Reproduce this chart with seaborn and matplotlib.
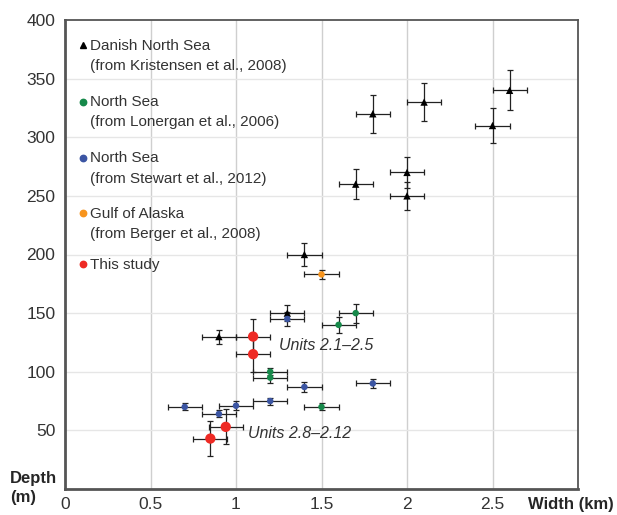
import pandas as pd
import matplotlib
matplotlib.use("Agg")
import matplotlib.pyplot as plt
from matplotlib.lines import Line2D
import seaborn as sns

# data (width in km, depth in m, +/- errors)
danish_x = [0.9, 1.3, 1.4, 1.7, 1.8, 2.0, 2.0, 2.1, 2.5, 2.6]
danish_y = [130, 150, 200, 260, 320, 270, 250, 330, 310, 340]
danish_yerr = [6, 7, 10, 13, 16, 13, 12, 16, 15, 17]

lonergan_x = [1.2, 1.2, 1.5, 1.6, 1.7]
lonergan_y = [100, 95, 70, 140, 150]
lonergan_yerr = [3, 5, 3, 7, 8]

stewart_x = [0.7, 0.9, 1.0, 1.2, 1.3, 1.4, 1.8]
stewart_y = [70, 64, 71, 75, 145, 87, 90]
stewart_yerr = [3, 3, 4, 3, 6, 4, 4]

berger_x = [1.5]
berger_y = [183]
berger_yerr = [4]

study_x = [0.85, 0.94, 1.1, 1.1]
study_y = [43, 53, 115, 130]
study_yerr = [15, 15, 15, 15]

width_err = 0.1

series = [
    ("Danish North Sea\n(from Kristensen et al., 2008)", danish_x, danish_y, danish_yerr, "black", "^", 28),
    ("North Sea\n(from Lonergan et al., 2006)", lonergan_x, lonergan_y, lonergan_yerr, "#16894a", "o", 22),
    ("North Sea\n(from Stewart et al., 2012)", stewart_x, stewart_y, stewart_yerr, "#3b55a3", "o", 22),
    ("Gulf of Alaska\n(from Berger et al., 2008)", berger_x, berger_y, berger_yerr, "#f7941d", "o", 22),
    ("This study", study_x, study_y, study_yerr, "#ee2a24", "o", 55),
]

frames = []
for name, xs, ys, es, c, m, s in series:
    frames.append(pd.DataFrame({"source": name, "width": xs, "depth": ys, "err": es}))
df = pd.concat(frames, ignore_index=True)

sns.set_style("white")
plt.rcParams["font.family"] = ["Liberation Sans", "DejaVu Sans"]

W, H = 617, 515
fig = plt.figure(figsize=(W / 100, H / 100), dpi=100)
ax = fig.add_axes([65 / W, 26 / H, 513 / W, 469 / H])

for name, xs, ys, es, c, m, s in series:
    sub = df[df["source"] == name]
    ax.errorbar(sub["width"], sub["depth"], xerr=width_err, yerr=sub["err"],
                fmt="none", ecolor="#222222", elinewidth=0.9, capsize=2.2,
                capthick=0.9, zorder=2)
    sns.scatterplot(data=sub, x="width", y="depth", color=c, marker=m, s=s,
                    edgecolor="none", ax=ax, zorder=3, legend=False)

ax.text(1.25, 122, "Units 2.1\u20132.5", fontsize=11.5, style="italic",
        color="#333333", va="center", ha="left")
ax.text(1.07, 47, "Units 2.8\u20132.12", fontsize=11.5, style="italic",
        color="#333333", va="center", ha="left")

ax.set_xlim(0, 3)
ax.set_ylim(0, 400)
ax.set_xticks([0, 0.5, 1, 1.5, 2, 2.5, 3])
ax.set_xticklabels(["0", "0.5", "1", "1.5", "2", "2.5", ""])
ax.set_yticks(range(0, 401, 50))
ax.set_yticklabels([""] + [str(v) for v in range(50, 401, 50)])
ax.tick_params(axis="both", labelsize=12.5, colors="#333333", length=3,
               width=0.8, direction="out", pad=4)
ax.tick_params(axis="x", pad=3)
ax.set_xlabel("")
ax.set_ylabel("")

for v in [0.5, 1, 1.5, 2, 2.5]:
    ax.axvline(v, color="#cfcfcf", lw=1.0, zorder=0)
for v in range(50, 400, 50):
    ax.axhline(v, color="#e6e6e6", lw=1.0, zorder=0)

for side in ["left", "bottom"]:
    ax.spines[side].set_color("#555555")
    ax.spines[side].set_linewidth(2.0)
for side in ["top", "right"]:
    ax.spines[side].set_color("#555555")
    ax.spines[side].set_linewidth(1.3)

# hand-placed key, marker beside the first line of each entry
key_rows = [45, 101.7, 158, 213.3, 264.3]
for (name, xs, ys, es, c, m, s), row in zip(series, key_rows):
    fig.text(90.5 / W, 1 - (row - 6.5) / H, name, fontsize=11,
             color="#333333", ha="left", va="top", linespacing=1.55)
    fig.add_artist(Line2D([82.7 / W], [1 - row / H], ls="none", marker=m,
                          color=c, markersize=4.6,
                          transform=fig.transFigure))

fig.text(10 / W, 1 - 471 / H, "Depth\n(m)", fontsize=12, fontweight="bold",
         ha="left", va="top", linespacing=1.35)
fig.text(614 / W, 1 - 497 / H, "Width (km)", fontsize=12, fontweight="bold",
         ha="right", va="top")

fig.savefig("out.png", dpi=100)
plt.close(fig)
